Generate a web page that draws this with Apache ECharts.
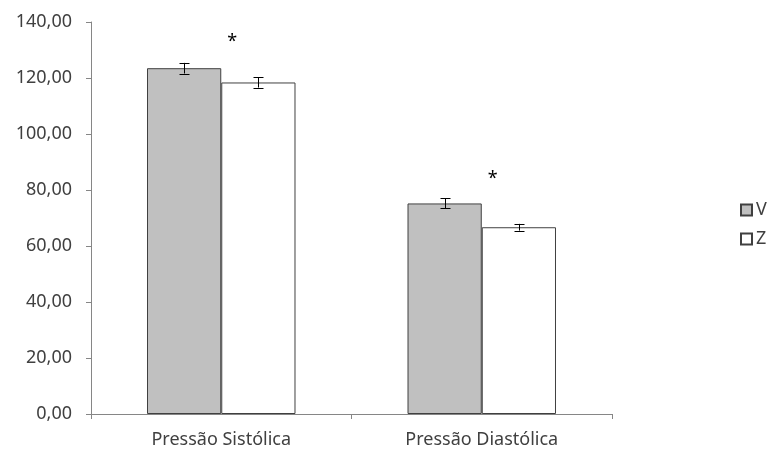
<!DOCTYPE html>
<html>
<head>
<meta charset="utf-8">
<script src="https://cdn.jsdelivr.net/npm/echarts@6/dist/echarts.min.js"></script>
<style>html,body{margin:0;padding:0;background:#fff}#c{width:771px;height:450px}</style>
</head>
<body>
<div id="c"></div>
<script>
var categories = ['Pressão Sistólica', 'Pressão Diastólica'];
var seriesNames = ['V', 'Z'];
var valuesV = [123.5, 75.2];
var valuesZ = [118.4, 66.7];
var errV = [1.9, 1.8];
var errZ = [1.8, 1.2];
var starValues = [134, 85];
var yTicks = [0, 20, 40, 60, 80, 100, 120, 140];

var GAP = 0.43;
var chart = echarts.init(document.getElementById('c'));

function errData(vals, errs) {
  return vals.map(function (v, i) { return [i, v - errs[i], v + errs[i]]; });
}
function errRender(side) {
  return function (params, api) {
    var idx = api.value(0);
    var lo = api.coord([idx, api.value(1)]);
    var hi = api.coord([idx, api.value(2)]);
    var cw = api.size([1, 0])[0];
    var bw = cw * (1 - GAP) / 2;
    var x = Math.round(lo[0] + side * bw / 2) + 0.5;
    var cap = 5;
    var st = { stroke: '#000', lineWidth: 1 };
    return {
      type: 'group',
      children: [
        { type: 'line', shape: { x1: x, y1: lo[1], x2: x, y2: hi[1] }, style: st },
        { type: 'line', shape: { x1: x - cap, y1: Math.round(lo[1]) + 0.5, x2: x + cap, y2: Math.round(lo[1]) + 0.5 }, style: st },
        { type: 'line', shape: { x1: x - cap, y1: Math.round(hi[1]) + 0.5, x2: x + cap, y2: Math.round(hi[1]) + 0.5 }, style: st }
      ]
    };
  };
}

var font = 'Noto Sans';
chart.setOption({
  animation: false,
  textStyle: { fontFamily: font },
  grid: { left: 91, right: 159, top: 22, bottom: 36 },
  legend: {
    data: seriesNames.map(function (n) { return { name: n, icon: 'rect' }; }),
    orient: 'vertical',
    left: 735, top: 196,
    itemWidth: 11, itemHeight: 11, itemGap: 11,
    textStyle: { fontFamily: font, fontSize: 18, color: '#404040', padding: [0, 0, 0, -1] }
  },
  xAxis: {
    type: 'category',
    data: categories,
    axisLine: { lineStyle: { color: '#868686', width: 1 } },
    axisTick: { show: true, length: 5, lineStyle: { color: '#868686' } },
    axisLabel: { fontFamily: font, fontSize: 18, color: '#404040', margin: 17 }
  },
  yAxis: {
    type: 'value',
    min: 0, max: 140, interval: 20,
    axisLine: { show: true, lineStyle: { color: '#868686', width: 1 } },
    axisTick: { show: true, length: 5, lineStyle: { color: '#868686' } },
    splitLine: { show: false },
    axisLabel: {
      fontFamily: font, fontSize: 18, color: '#404040', margin: 19,
      formatter: function (v) { return v.toFixed(2).replace('.', ','); }
    }
  },
  series: [
    {
      name: 'V', type: 'bar', data: valuesV,
      barGap: '0%', barCategoryGap: (GAP * 100) + '%',
      itemStyle: { color: '#c0c0c0', borderColor: '#404040', borderWidth: 1 }
    },
    {
      name: 'Z', type: 'bar', data: valuesZ,
      itemStyle: { color: '#ffffff', borderColor: '#404040', borderWidth: 1 }
    },
    {
      type: 'custom', renderItem: errRender(-1), data: errData(valuesV, errV), z: 10, silent: true
    },
    {
      type: 'custom', renderItem: errRender(1), data: errData(valuesZ, errZ), z: 10, silent: true
    },
    {
      type: 'custom', silent: true, z: 10,
      data: starValues.map(function (v, i) { return [i, v]; }),
      renderItem: function (params, api) {
        var p = api.coord([api.value(0), api.value(1)]);
        return {
          type: 'text',
          style: { text: '*', x: p[0] + 11, y: p[1] + 3, fill: '#000', font: '18px ' + font, align: 'center', verticalAlign: 'middle' }
        };
      }
    }
  ]
});
</script>
</body>
</html>
